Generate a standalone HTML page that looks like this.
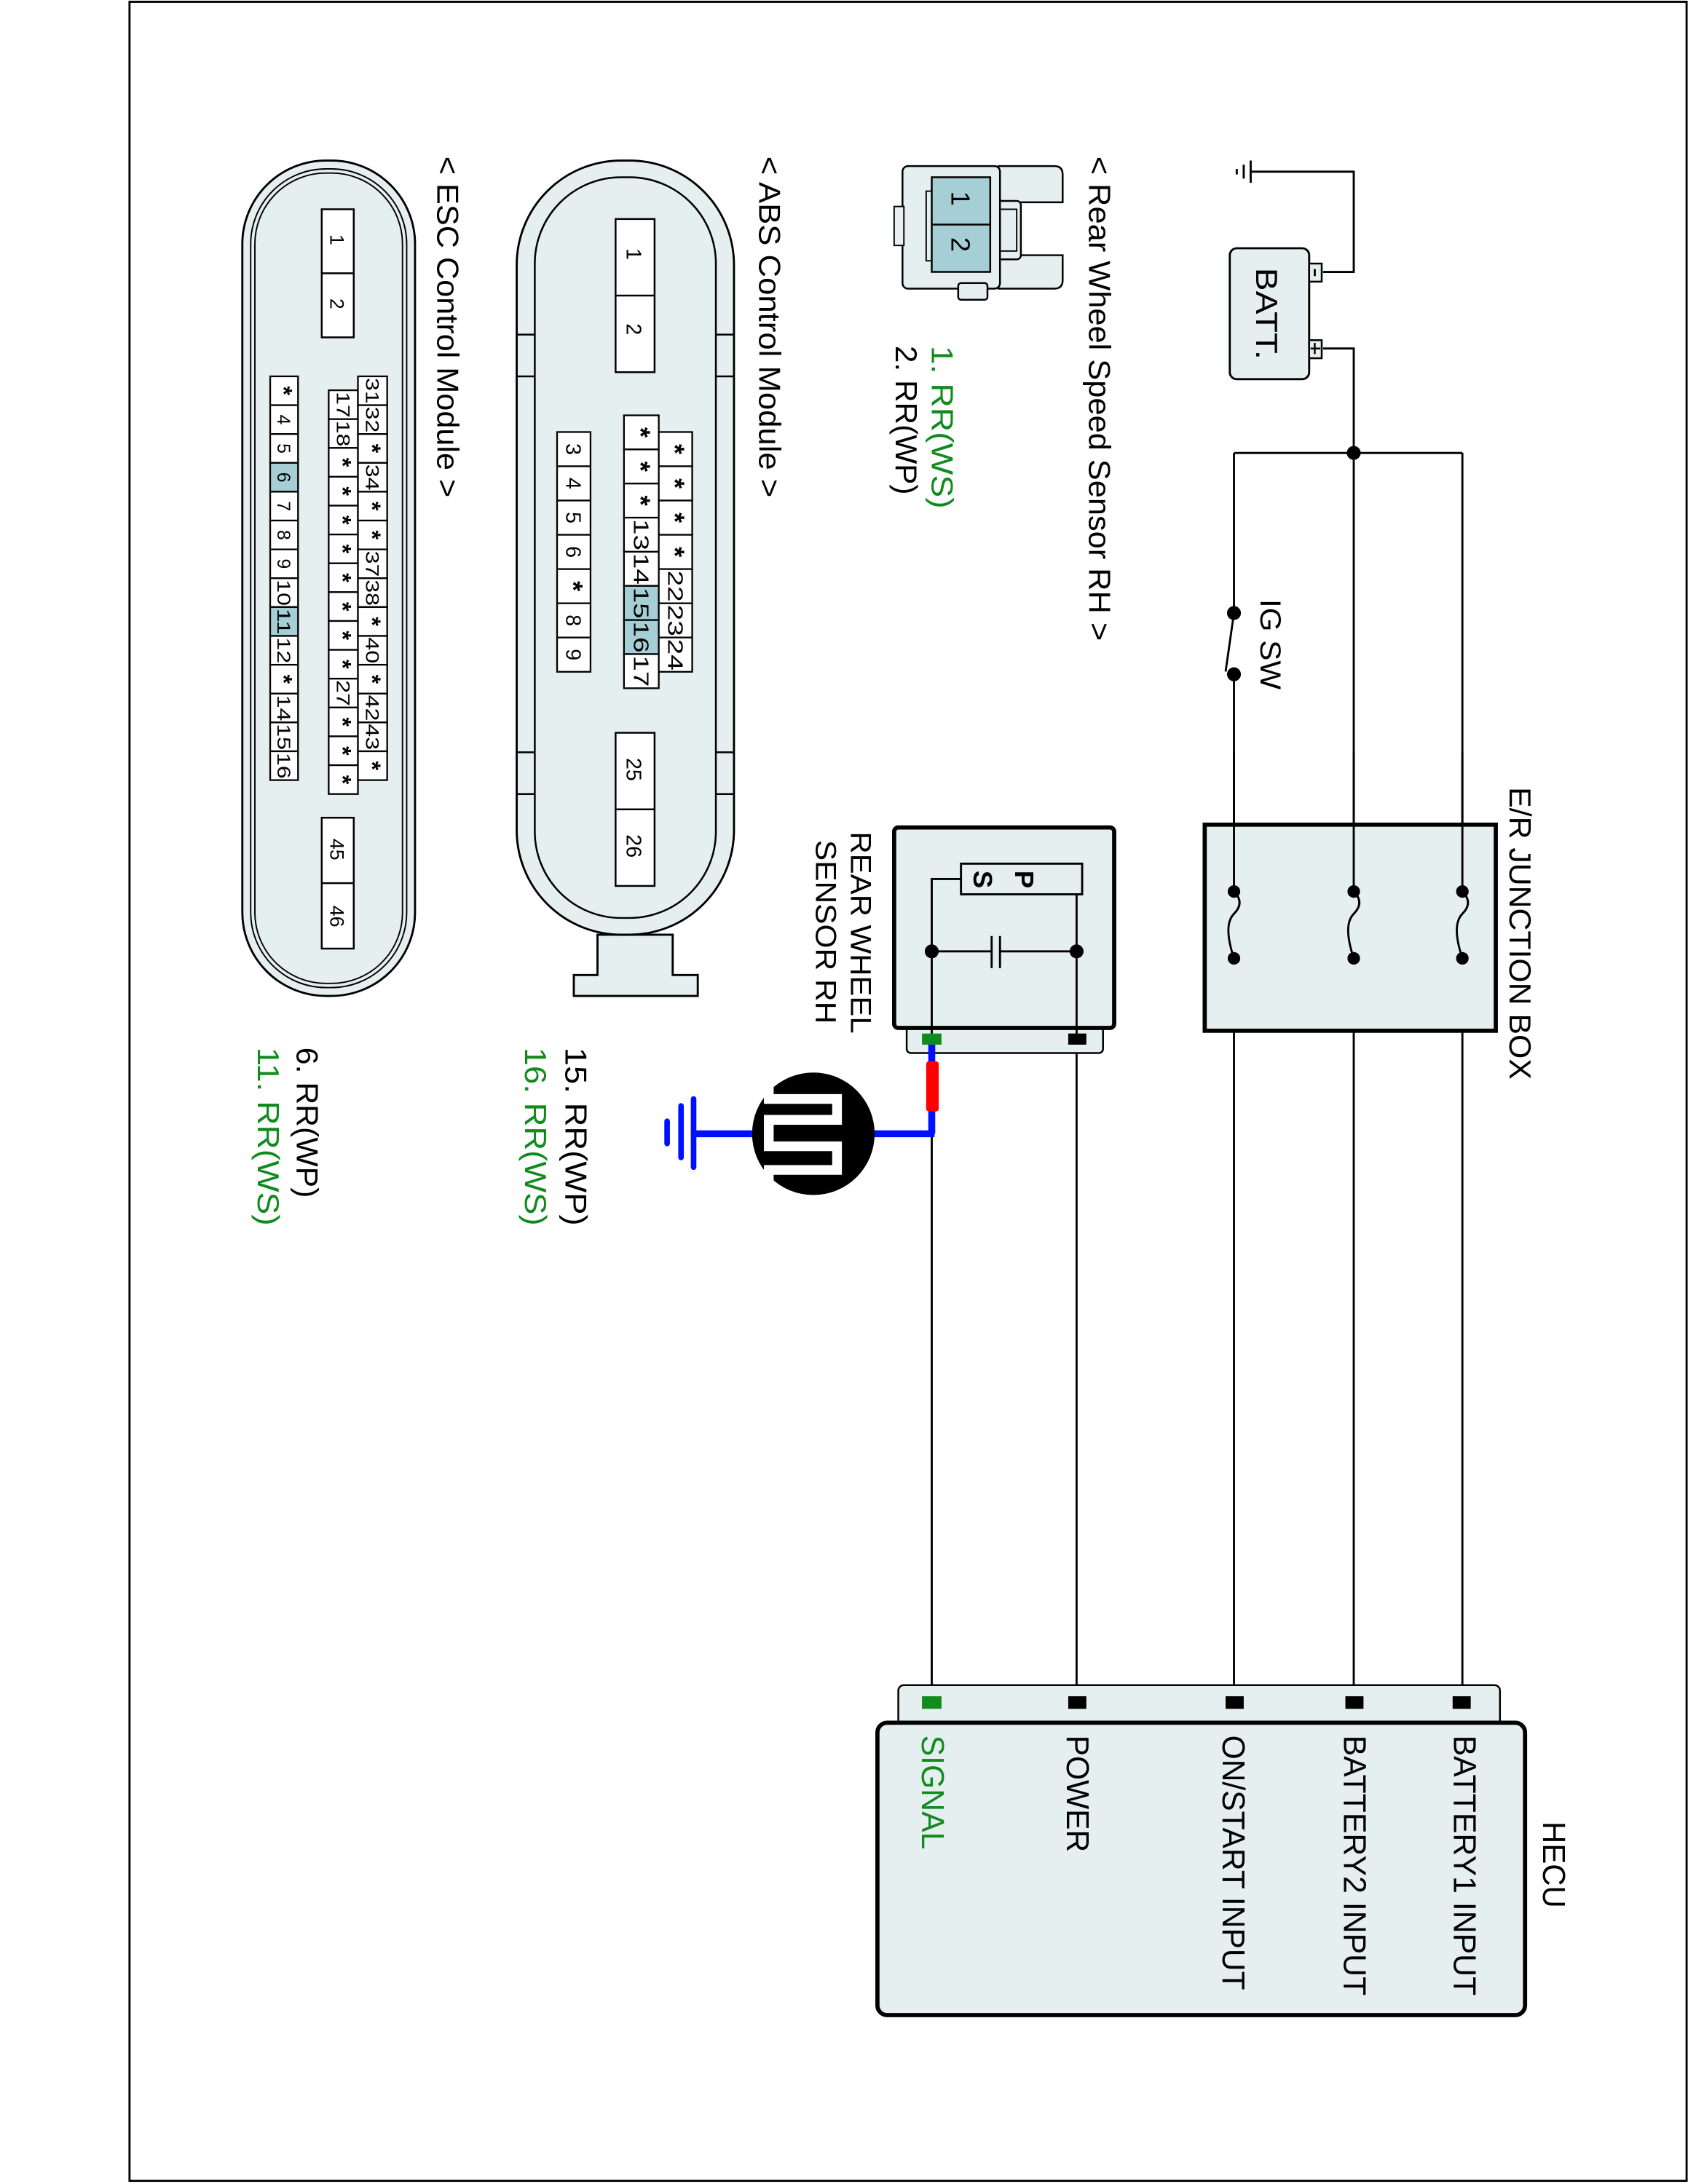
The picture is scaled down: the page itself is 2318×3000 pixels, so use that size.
<!DOCTYPE html>
<html><head><meta charset="utf-8"><style>html,body{margin:0;padding:0;background:#fff}svg{display:block}</style></head><body>
<svg width="2318" height="3000" viewBox="0 0 1212 1568" xmlns="http://www.w3.org/2000/svg" font-family="Liberation Sans, Arial, sans-serif">
<rect x="0" y="0" width="1212" height="1568" fill="#fff"/>
<rect x="93" y="1" width="1118" height="1565" fill="none" stroke="#000" stroke-width="1.5"/>

<!-- ground + battery -->
<g stroke="#000" stroke-width="1.5" fill="none">
<line x1="898" y1="115" x2="898" y2="131"/><line x1="893" y1="118" x2="893" y2="128"/><line x1="888" y1="121" x2="888" y2="125"/>
<polyline points="898,123 972,123 972,195 950,195"/>
<polyline points="950,250 972,250 972,1222"/>
<line x1="886" y1="325" x2="1050" y2="325"/>
<line x1="1050" y1="325" x2="1050" y2="1222"/>
<line x1="886" y1="325" x2="886" y2="440"/>
<line x1="886" y1="484" x2="886" y2="1222"/>
<line x1="886" y1="440" x2="880" y2="482"/>
<line x1="669" y1="812" x2="669" y2="1222"/>
<line x1="773" y1="750" x2="773" y2="1222"/>
</g>
<circle cx="972" cy="325" r="5" fill="#000"/>
<circle cx="886" cy="440" r="5" fill="#000"/><circle cx="886" cy="484" r="5" fill="#000"/>
<rect x="883" y="178" width="57" height="94" rx="5" fill="#e6eff0" stroke="#000" stroke-width="1.5"/>
<rect x="940" y="189" width="9" height="13" fill="#e6eff0" stroke="#000" stroke-width="1.3"/>
<rect x="940" y="244" width="9" height="13" fill="#e6eff0" stroke="#000" stroke-width="1.3"/>
<line x1="944" y1="193" x2="944" y2="198" stroke="#000" stroke-width="1.5"/>
<line x1="941" y1="250" x2="948" y2="250" stroke="#000" stroke-width="1.3"/><line x1="944" y1="246" x2="944" y2="254" stroke="#000" stroke-width="1.3"/>
<text transform="translate(902,192) rotate(90)" font-size="22" textLength="66" lengthAdjust="spacingAndGlyphs">BATT.</text>
<text transform="translate(905,430) rotate(90)" font-size="21" textLength="65" lengthAdjust="spacingAndGlyphs">IG SW</text>

<!-- junction box -->
<rect x="865" y="592" width="209" height="148" fill="#e6eff0" stroke="#000" stroke-width="3"/>
<g stroke="#000" stroke-width="1.5" fill="none">
<line x1="886" y1="540" x2="886" y2="640"/><line x1="972" y1="540" x2="972" y2="640"/><line x1="1050" y1="540" x2="1050" y2="640"/>
<path d="M886,640 q8,8 0,16 q-8,8 0,32"/>
<path d="M972,640 q8,8 0,16 q-8,8 0,32"/>
<path d="M1050,640 q8,8 0,16 q-8,8 0,32"/>
</g>
<g fill="#000"><circle cx="886" cy="640" r="4.5"/><circle cx="886" cy="688" r="4.5"/><circle cx="972" cy="640" r="4.5"/><circle cx="972" cy="688" r="4.5"/><circle cx="1050" cy="640" r="4.5"/><circle cx="1050" cy="688" r="4.5"/></g>
<text transform="translate(1084,565) rotate(90)" font-size="22" textLength="210" lengthAdjust="spacingAndGlyphs">E/R JUNCTION BOX</text>

<!-- sensor box -->
<rect x="651" y="736" width="141" height="20" rx="3" fill="#e6eff0" stroke="#000" stroke-width="1.3"/>
<rect x="642" y="594" width="158" height="144" rx="3" fill="#e6eff0" stroke="#000" stroke-width="3"/>
<g stroke="#000" stroke-width="1.5" fill="none">
<polyline points="669,745 669,631 690,631"/><polyline points="773,745 773,631 777,631"/>
<line x1="669" y1="683" x2="712" y2="683"/><line x1="718" y1="683" x2="773" y2="683"/>
<line x1="712" y1="672" x2="712" y2="695"/><line x1="718" y1="672" x2="718" y2="695"/>
</g>
<rect x="690" y="620" width="87" height="22" fill="#e6eff0" stroke="#000" stroke-width="1.5"/>
<text transform="translate(729,625) rotate(90)" font-size="19" font-weight="bold">P</text>
<text transform="translate(699,625) rotate(90)" font-size="19" font-weight="bold">S</text>
<circle cx="669" cy="683" r="5" fill="#000"/><circle cx="773" cy="683" r="5" fill="#000"/>
<rect x="662" y="742" width="14" height="8" fill="#118a1e"/>
<rect x="767" y="742" width="13" height="8" fill="#000"/>
<text transform="translate(611,597) rotate(90)" font-size="21" textLength="145" lengthAdjust="spacingAndGlyphs">REAR WHEEL</text>
<text transform="translate(586,603) rotate(90)" font-size="21" textLength="132" lengthAdjust="spacingAndGlyphs">SENSOR RH</text>

<!-- shield -->
<line x1="669" y1="750" x2="669" y2="814" stroke="#0010ff" stroke-width="5"/>
<line x1="671" y1="814" x2="540" y2="814" stroke="#0010ff" stroke-width="5"/>
<line x1="540" y1="814" x2="496" y2="814" stroke="#0010ff" stroke-width="5"/>
<rect x="665" y="762" width="9" height="36" rx="2" fill="#ff0000"/>
<g stroke="#0010ff" stroke-width="4" stroke-linecap="round"><line x1="498" y1="789" x2="498" y2="838"/><line x1="489" y1="794" x2="489" y2="831"/><line x1="479" y1="805" x2="479" y2="821"/></g>
<circle cx="584" cy="814" r="44" fill="#000"/>
<path d="M552,776 L552,789 L601,789 L601,804 L552,804 L552,823 L601,823 L601,840 L552,840 L552,854" fill="none" stroke="#fff" stroke-width="7"/>

<!-- HECU -->
<rect x="645" y="1210" width="432" height="30" rx="4" fill="#e6eff0" stroke="#000" stroke-width="1.3"/>
<rect x="630" y="1237" width="465" height="210" rx="7" fill="#e6eff0" stroke="#000" stroke-width="3"/>
<rect x="662" y="1218" width="14" height="9" fill="#118a1e"/>
<rect x="767" y="1218" width="13" height="9" fill="#000"/>
<rect x="880" y="1218" width="13" height="9" fill="#000"/>
<rect x="966" y="1218" width="13" height="9" fill="#000"/>
<rect x="1043" y="1218" width="13" height="9" fill="#000"/>
<g font-size="23">
<text transform="translate(1044,1246) rotate(90)" textLength="187" lengthAdjust="spacingAndGlyphs">BATTERY1 INPUT</text>
<text transform="translate(965,1246) rotate(90)" textLength="187" lengthAdjust="spacingAndGlyphs">BATTERY2 INPUT</text>
<text transform="translate(878,1246) rotate(90)" textLength="183" lengthAdjust="spacingAndGlyphs">ON/START INPUT</text>
<text transform="translate(766,1246) rotate(90)" textLength="84" lengthAdjust="spacingAndGlyphs">POWER</text>
<text transform="translate(662,1246) rotate(90)" fill="#118a1e" textLength="82" lengthAdjust="spacingAndGlyphs">SIGNAL</text>
<text transform="translate(1108,1308) rotate(90)" textLength="62" lengthAdjust="spacingAndGlyphs">HECU</text>
</g>

<!-- rear wheel sensor connector -->
<path d="M717,119 H757 q6,0 6,6 V145 H731 V183 H763 V201 q0,6 -6,6 H717 Z" fill="#e6eff0" stroke="#000" stroke-width="1.3"/>
<rect x="710" y="144" width="23" height="42" rx="3" fill="#e6eff0" stroke="#000" stroke-width="1.3"/>
<rect x="718" y="150" width="12" height="30" fill="none" stroke="#000" stroke-width="1"/>
<rect x="648" y="119" width="70" height="88" rx="4" fill="#e6eff0" stroke="#000" stroke-width="1.3"/>
<rect x="688" y="203" width="21" height="12" rx="2" fill="#e6eff0" stroke="#000" stroke-width="1.3"/>
<rect x="642" y="148" width="7" height="28" fill="#e6eff0" stroke="#000" stroke-width="1"/>
<rect x="665" y="137" width="5" height="50" fill="#e6eff0" stroke="#000" stroke-width="1"/>
<rect x="669" y="127" width="42" height="68" fill="#a5cfd4" stroke="#000" stroke-width="1.3"/>
<line x1="669" y1="161" x2="711" y2="161" stroke="#000" stroke-width="1.3"/>
<text transform="translate(683,137) rotate(90)" font-size="19">1</text>
<text transform="translate(683,170) rotate(90)" font-size="19">2</text>
<g font-size="22">
<text transform="translate(782,112) rotate(90)" textLength="348" lengthAdjust="spacingAndGlyphs">&lt; Rear Wheel Speed Sensor RH &gt;</text>
<text transform="translate(669,248) rotate(90)" fill="#118a1e" textLength="117" lengthAdjust="spacingAndGlyphs">1. RR(WS)</text>
<text transform="translate(643,248) rotate(90)" textLength="107" lengthAdjust="spacingAndGlyphs">2. RR(WP)</text>
<text transform="translate(545,112) rotate(90)" textLength="245" lengthAdjust="spacingAndGlyphs">&lt; ABS Control Module &gt;</text>
<text transform="translate(314,112) rotate(90)" textLength="245" lengthAdjust="spacingAndGlyphs">&lt; ESC Control Module &gt;</text>
<text transform="translate(406,752) rotate(90)" textLength="128" lengthAdjust="spacingAndGlyphs">15. RR(WP)</text>
<text transform="translate(377,752) rotate(90)" fill="#118a1e" textLength="128" lengthAdjust="spacingAndGlyphs">16. RR(WS)</text>
<text transform="translate(213,752) rotate(90)" textLength="108" lengthAdjust="spacingAndGlyphs">6. RR(WP)</text>
<text transform="translate(185,752) rotate(90)" fill="#118a1e" textLength="128" lengthAdjust="spacingAndGlyphs">11. RR(WS)</text>
</g>

<!-- ABS connector -->
<path d="M429,671 V700 H412 V715 H501 V700 H483 V671 Z" fill="#e6eff0" stroke="#000" stroke-width="1.5"/>
<rect x="371" y="115" width="156" height="556" rx="75" fill="#e6eff0" stroke="#000" stroke-width="1.5"/>
<rect x="384" y="127" width="130" height="532" rx="62" fill="none" stroke="#000" stroke-width="1.3"/>
<g stroke="#000" stroke-width="1.3"><line x1="371" y1="240" x2="384" y2="240"/><line x1="371" y1="270" x2="384" y2="270"/><line x1="514" y1="240" x2="527" y2="240"/><line x1="514" y1="270" x2="527" y2="270"/>
<line x1="371" y1="540" x2="384" y2="540"/><line x1="371" y1="570" x2="384" y2="570"/><line x1="514" y1="540" x2="527" y2="540"/><line x1="514" y1="570" x2="527" y2="570"/></g>
<g id="abs" stroke="#000" stroke-width="1.3" fill="#fff">
<rect x="442" y="157" width="28" height="110"/><line x1="442" y1="212" x2="470" y2="212"/>
<rect x="442" y="526" width="28" height="110"/><line x1="442" y1="581" x2="470" y2="581"/>
</g>
<g font-size="15">
<text transform="translate(450,178) rotate(90)">1</text>
<text transform="translate(450,232) rotate(90)">2</text>
<text transform="translate(450,544) rotate(90)">25</text>
<text transform="translate(450,599) rotate(90)">26</text>
</g>

<!-- ESC connector -->
<rect x="174" y="115" width="124" height="600" rx="60" fill="#e6eff0" stroke="#000" stroke-width="1.5"/>
<rect x="180" y="121" width="112" height="588" rx="54" fill="none" stroke="#000" stroke-width="1"/>
<rect x="183" y="124" width="106" height="582" rx="51" fill="none" stroke="#000" stroke-width="1"/>
<g stroke="#000" stroke-width="1.3" fill="#fff">
<rect x="231" y="150" width="23" height="92"/><line x1="231" y1="196" x2="254" y2="196"/>
<rect x="231" y="587" width="23" height="94"/><line x1="231" y1="634" x2="254" y2="634"/>
</g>
<g font-size="14">
<text transform="translate(237,168) rotate(90)">1</text>
<text transform="translate(237,214) rotate(90)">2</text>
<text transform="translate(237,602) rotate(90)">45</text>
<text transform="translate(237,650) rotate(90)">46</text>
</g>
<g id="cells"></g>
</svg>
<script>
(function(){
var ns="http://www.w3.org/2000/svg",g=document.getElementById("cells");
function col(x,w,y0,h,labels,hl,fs){
 labels.forEach(function(t,i){
  var y=y0+i*h;
  var r=document.createElementNS(ns,"rect");
  r.setAttribute("x",x);r.setAttribute("y",y);r.setAttribute("width",w);r.setAttribute("height",h);
  r.setAttribute("fill",hl.indexOf(t)>=0?"#a5cfd4":"#fff");r.setAttribute("stroke","#000");r.setAttribute("stroke-width","1.2");
  g.appendChild(r);
  var tx=document.createElementNS(ns,"text");
  var star=t==="*";
  var s=star?fs+4:fs;
  tx.setAttribute("font-size",s);
  if(star)tx.setAttribute("font-weight","bold");
  tx.setAttribute("text-anchor","middle");
  var bx=x+w/2-s*0.36;
  tx.setAttribute("transform","translate("+bx+","+(y+h/2)+") rotate(90)");
  tx.textContent=t;
  if(t.length>1&&!star){tx.setAttribute("textLength",h-2);tx.setAttribute("lengthAdjust","spacingAndGlyphs");}
  g.appendChild(tx);
 });
}
// ABS
col(400,24,310,24.6,["3","4","5","6","*","8","9"],[],15);
col(448,25,298,24.5,["*","*","*","13","14","15","16","17"],["15","16"],15);
col(473,24,310,24.6,["*","*","*","*","22","23","24"],[],15);
// ESC
var hA=290/14;
col(194,20,270,hA,["*","4","5","6","7","8","9","10","11","12","*","14","15","16"],["6","11"],13);
col(236,21,280,hA,["17","18","*","*","*","*","*","*","*","*","27","*","*","*"],[],13);
col(257,21,270,hA,["31","32","*","34","*","*","37","38","*","40","*","42","43","*"],[],13);
})();
</script>
</body></html>
